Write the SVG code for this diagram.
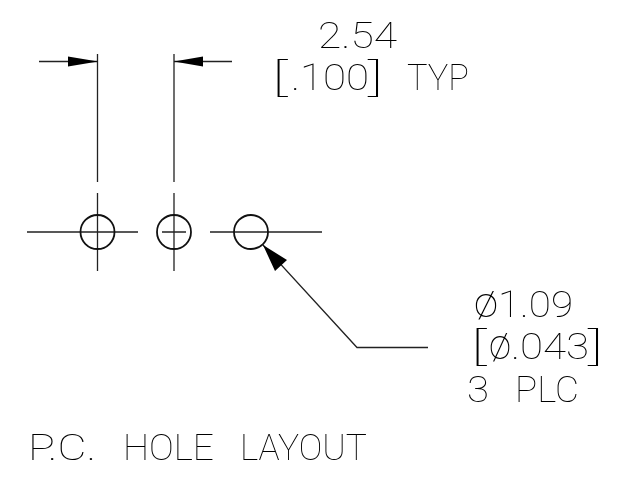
<svg xmlns="http://www.w3.org/2000/svg" width="629" height="477" viewBox="0 0 629 477">
<defs><filter id="gray" x="-5%" y="-5%" width="110%" height="110%" color-interpolation-filters="sRGB"><feOffset dx="0" dy="0"/></filter></defs>
<style>
.l{stroke:#222;stroke-width:1.3;fill:none}
.c{stroke:#111;stroke-width:1.8;fill:none}
.h{fill:#000;stroke:none}
text{font-family:"Roboto","Liberation Sans",sans-serif;font-weight:100;font-size:36px;fill:#000}
.t{filter:url(#gray)}
.b{font-size:38px}
.o{font-size:42px}
</style>
<rect width="629" height="477" fill="#fff"/>
<g id="connectors">
<path class="l" d="M97.500 54V182M97.500 193V271M174 54V182M174 193V271M27 232H138M162 232H186M210 232H322"/>
<path class="l" d="M39 61.500H97M174 61.500H232M263 245L357 347.500H428"/>
<path class="h" d="M98 61.500L68 56.500V66.500ZM174 61.500L203 56.500V66.500ZM263 245L287 260L275 271Z"/>
</g>
<g id="hole-1"><circle class="c" cx="97.500" cy="232" r="17"/></g>
<g id="hole-2"><circle class="c" cx="174" cy="232" r="17"/></g>
<g id="hole-3"><circle class="c" cx="251" cy="232" r="17"/></g>
<g id="label-pitch" class="t">
<text x="318" y="48" textLength="79" lengthAdjust="spacingAndGlyphs">2.54</text>
<text class="b" x="271" y="91" textLength="16" lengthAdjust="spacingAndGlyphs">[</text>
<text x="291" y="90" textLength="78" lengthAdjust="spacingAndGlyphs">.100</text>
<text class="b" x="368" y="91" textLength="16" lengthAdjust="spacingAndGlyphs">]</text>
<text x="407" y="90" textLength="62" lengthAdjust="spacingAndGlyphs">TYP</text>
</g>
<g id="label-hole" class="t">
<text class="o" x="474" y="317" textLength="24" lengthAdjust="spacingAndGlyphs">ø</text>
<text x="498" y="317" textLength="75" lengthAdjust="spacingAndGlyphs">1.09</text>
<text class="b" x="470" y="360" textLength="16" lengthAdjust="spacingAndGlyphs">[</text>
<text class="o" x="489" y="359" textLength="22" lengthAdjust="spacingAndGlyphs">ø</text>
<text x="511" y="359" textLength="78" lengthAdjust="spacingAndGlyphs">.043</text>
<text class="b" x="588" y="360" textLength="16" lengthAdjust="spacingAndGlyphs">]</text>
<text x="467" y="402" textLength="22" lengthAdjust="spacingAndGlyphs">3</text>
<text x="515" y="402" textLength="64" lengthAdjust="spacingAndGlyphs">PLC</text>
</g>
<g id="title" class="t">
<text x="28" y="460" textLength="68" lengthAdjust="spacingAndGlyphs">P.C.</text>
<text x="123" y="460" textLength="91" lengthAdjust="spacingAndGlyphs">HOLE</text>
<text x="240" y="460" textLength="127" lengthAdjust="spacingAndGlyphs">LAYOUT</text>
</g>
</svg>
